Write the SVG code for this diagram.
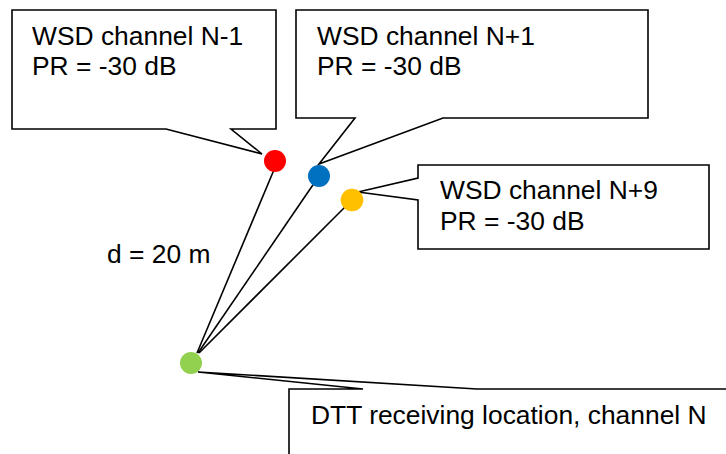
<svg xmlns="http://www.w3.org/2000/svg" width="726" height="454" viewBox="0 0 726 454">
<style>
.callout{fill:#fff;stroke:#000;stroke-width:1.6;stroke-linejoin:miter}
.lbl{font-family:"Liberation Sans",Arial,sans-serif;font-size:26.4px;fill:#000}
.link{stroke:#000;stroke-width:1.6;fill:none}
</style>
<rect width="726" height="454" fill="#fff"/>
<g id="callout-n-1">
<path class="callout" d="M12,10 H276 V129 H231 L262,154 L166,129 H12 Z"/>
<text class="lbl" x="32" y="45">WSD channel N-1</text>
<text class="lbl" x="32" y="75">PR = -30 dB</text>
</g>
<g id="callout-n+1">
<path class="callout" d="M296,10 H648 V118 H443 L319,164 L355,118 H296 Z"/>
<text class="lbl" x="317" y="45">WSD channel N+1</text>
<text class="lbl" x="317" y="75">PR = -30 dB</text>
</g>
<g id="callout-n+9">
<path class="callout" d="M418,165 H709 V249 H418 V200 L358,192 L418,178 Z"/>
<text class="lbl" x="440" y="199">WSD channel N+9</text>
<text class="lbl" x="440" y="230">PR = -30 dB</text>
</g>
<g id="callout-dtt">
<path class="callout" d="M289,470 V389 H363 L198,372 L477,389 H740 V470 Z"/>
<text class="lbl" x="311" y="424">DTT receiving location, channel N</text>
</g>
<g id="connectors">
<line class="link" x1="276" y1="165" x2="197" y2="353"/>
<line class="link" x1="319" y1="176" x2="198" y2="353"/>
<line class="link" x1="352" y1="200" x2="199" y2="353"/>
</g>
<g id="wsd-n-1"><circle cx="275" cy="161" r="11" fill="#FF0000"/></g>
<g id="wsd-n+1"><circle cx="319" cy="176" r="11" fill="#0070C0"/></g>
<g id="wsd-n+9"><circle cx="352" cy="200" r="11.3" fill="#FFC000"/></g>
<g id="dtt"><circle cx="191" cy="363" r="11" fill="#92D050"/></g>
<g id="distance-label"><text class="lbl" x="107" y="263">d = 20 m</text></g>
</svg>
